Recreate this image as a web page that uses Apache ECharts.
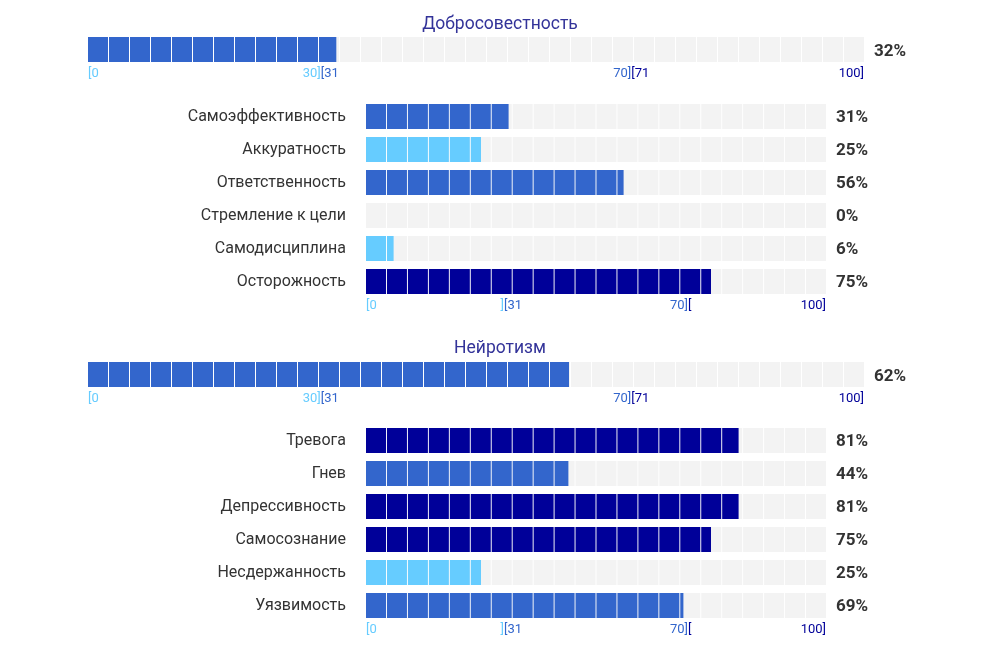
<!DOCTYPE html>
<html>
<head>
<meta charset="utf-8">
<script src="https://cdn.jsdelivr.net/npm/echarts@6/dist/echarts.min.js"></script>
<style>
  html, body { margin: 0; padding: 0; background: #fff; }
  #content { width: 994px; height: 649px; }
</style>
</head>
<body>
<div id="content"></div>
<script>
// --- data ---
var sectionTitles = ['Добросовестность', 'Нейротизм'];
var sectionTotals = [32, 62];

var conscNames = ['Самоэффективность', 'Аккуратность', 'Ответственность', 'Стремление к цели', 'Самодисциплина', 'Осторожность'];
var conscValues = [31, 25, 56, 0, 6, 75];

var neuroNames = ['Тревога', 'Гнев', 'Депрессивность', 'Самосознание', 'Несдержанность', 'Уязвимость'];
var neuroValues = [81, 44, 81, 75, 25, 69];

var tickValues = [0, 30, 70, 100];
var mainLabelsEnd = ['', '30]', '70]', '100]'];
var mainLabelsStart = ['[0', '[31', '[71', ''];
var facetLabelsEnd = ['', ']', '70]', '100]'];
var facetLabelsStart = ['[0', '[31', '[', ''];

var bandLimits = [30, 70];
var bandColors = ['#66ccff', '#3366cc', '#000099'];

!(function (window) {
    var myChart = echarts.init(document.getElementById('content'));
    var font = 'Roboto';

    function colorFor(v) {
        if (v <= bandLimits[0]) return bandColors[0];
        if (v <= bandLimits[1]) return bandColors[1];
        return bandColors[2];
    }

    // end labels belong to the band on the left of the tick, start labels to the band on the right
    function endColor(v) { return colorFor(v - 0.5); }
    function startColor(v) { return colorFor(v + 0.5); }

    var grids = [
        { left: 88, width: 776, top: 37, height: 25 },
        { left: 366, width: 460, top: 100, height: 198 },
        { left: 88, width: 776, top: 362, height: 25 },
        { left: 366, width: 460, top: 424, height: 198 }
    ];

    var blocks = [
        { names: [''], values: [sectionTotals[0]], main: true },
        { names: conscNames, values: conscValues, main: false },
        { names: [''], values: [sectionTotals[1]], main: true },
        { names: neuroNames, values: neuroValues, main: false }
    ];

    var xAxis = [], yAxis = [], series = [];

    blocks.forEach(function (b, g) {
        var endLabels = b.main ? mainLabelsEnd : facetLabelsEnd;
        var startLabels = b.main ? mainLabelsStart : facetLabelsStart;
        var cells = b.main ? 37 : 22;

        [['right', endLabels, endColor], ['left', startLabels, startColor]].forEach(function (cfg) {
            xAxis.push({
                gridIndex: g,
                type: 'value',
                position: 'bottom',
                min: 0,
                max: 100,
                axisLine: { show: false },
                axisTick: { show: false },
                splitLine: { show: false },
                axisLabel: {
                    customValues: tickValues,
                    align: cfg[0],
                    margin: b.main ? 5 : 1,
                    fontFamily: font,
                    fontSize: 13,
                    formatter: function (val) {
                        var i = tickValues.indexOf(val);
                        return i >= 0 ? cfg[1][i] : '';
                    },
                    color: function (val) {
                        return cfg[2](+val);
                    }
                }
            });
        });

        yAxis.push({
            gridIndex: g,
            type: 'category',
            inverse: true,
            data: b.names,
            axisLine: { show: false },
            axisTick: { show: false },
            axisLabel: {
                show: !b.main,
                margin: 20,
                fontFamily: font,
                fontSize: 16,
                color: '#333'
            }
        });
        yAxis.push({
            gridIndex: g,
            type: 'category',
            inverse: true,
            position: 'right',
            data: b.values.map(function (v) { return v + '%'; }),
            axisLine: { show: false },
            axisTick: { show: false },
            axisLabel: {
                margin: 10,
                formatter: function (s) { return '{p|' + s + '}'; },
                rich: {
                    p: {
                        padding: b.main ? [5, 0, 0, 0] : [2, 0, 0, 0],
                        fontFamily: font,
                        fontSize: 17,
                        fontWeight: 'bold',
                        color: '#333'
                    }
                }
            }
        });

        var common = {
            type: 'pictorialBar',
            xAxisIndex: 2 * g,
            yAxisIndex: 2 * g,
            symbol: 'rect',
            symbolRepeat: cells,
            symbolMargin: 0.5,
            symbolSize: [20, 25],
            symbolBoundingData: 100,
            barGap: '-100%',
            silent: true,
            animation: false
        };

        series.push(Object.assign({}, common, {
            z: 1,
            itemStyle: { color: '#f3f3f3' },
            data: b.values.map(function () { return 100; })
        }));
        series.push(Object.assign({}, common, {
            z: 2,
            symbolClip: true,
            data: b.values.map(function (v) {
                return { value: v, itemStyle: { color: colorFor(v) } };
            })
        }));
    });

    var titleStyle = { fontFamily: font, fontSize: 17.5, fontWeight: 'normal', color: '#333399' };
    var option = {
        animation: false,
        title: [
            { text: sectionTitles[0], left: 495, textAlign: 'center', top: 11, textStyle: titleStyle },
            { text: sectionTitles[1], left: 495, textAlign: 'center', top: 335, textStyle: titleStyle }
        ],
        grid: grids,
        xAxis: xAxis,
        yAxis: yAxis,
        series: series
    };
    myChart.setOption(option);
})(window);
</script>
</body>
</html>
